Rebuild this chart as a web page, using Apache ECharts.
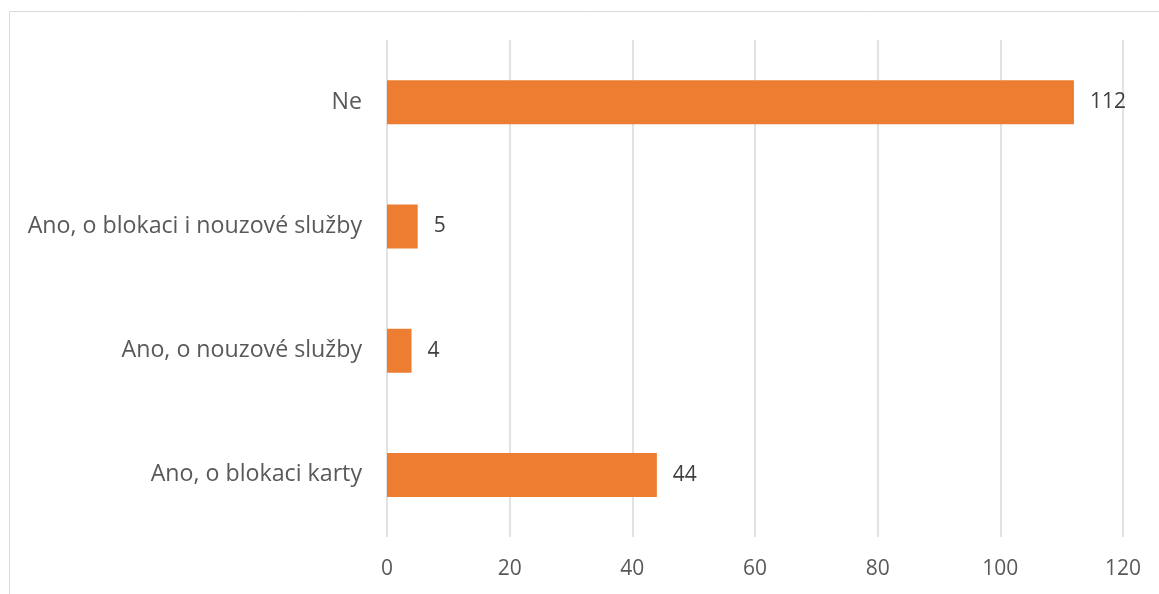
<!DOCTYPE html>
<html><head><meta charset="utf-8">
<script src="https://cdn.jsdelivr.net/npm/echarts@6/dist/echarts.min.js"></script>
<style>html,body{margin:0;padding:0;background:#fff}#c{width:1159px;height:594px}</style>
</head><body><div id="c"></div>
<script>
const categories = ["Ano, o blokaci karty", "Ano, o nouzové služby", "Ano, o blokaci i nouzové služby", "Ne"];
const values = [44, 4, 5, 112];
const xTicks = [0, 20, 40, 60, 80, 100, 120];

const chart = echarts.init(document.getElementById('c'));
const font = '"Open Sans", "Noto Sans", sans-serif';
chart.setOption({
  animation: false,
  graphic: [
    { type: 'line', shape: { x1: 9.5, y1: 11.5, x2: 1159, y2: 11.5 }, style: { stroke: '#D9D9D9', lineWidth: 1 } },
    { type: 'line', shape: { x1: 9.5, y1: 11.5, x2: 9.5, y2: 594 }, style: { stroke: '#D9D9D9', lineWidth: 1 } }
  ],
  grid: { left: 387, right: 36, top: 40, bottom: 57, containLabel: false },
  xAxis: {
    type: 'value', min: xTicks[0], max: xTicks[xTicks.length - 1], interval: 20,
    axisLine: { show: false }, axisTick: { show: false },
    splitLine: { show: true, lineStyle: { color: '#D9D9D9', width: 1.5 } },
    axisLabel: { color: '#595959', fontSize: 21, fontFamily: font, margin: 22 }
  },
  yAxis: {
    type: 'category', data: categories,
    axisLine: { show: false }, axisTick: { show: false },
    axisLabel: { color: '#595959', fontSize: 23.2, fontFamily: font, margin: 25 }
  },
  series: [{
    type: 'bar', data: values, barWidth: 44,
    itemStyle: { color: '#ED7D31' },
    label: { show: true, position: 'right', distance: 16, color: '#404040', fontSize: 21, fontFamily: font }
  }]
});
</script></body></html>
